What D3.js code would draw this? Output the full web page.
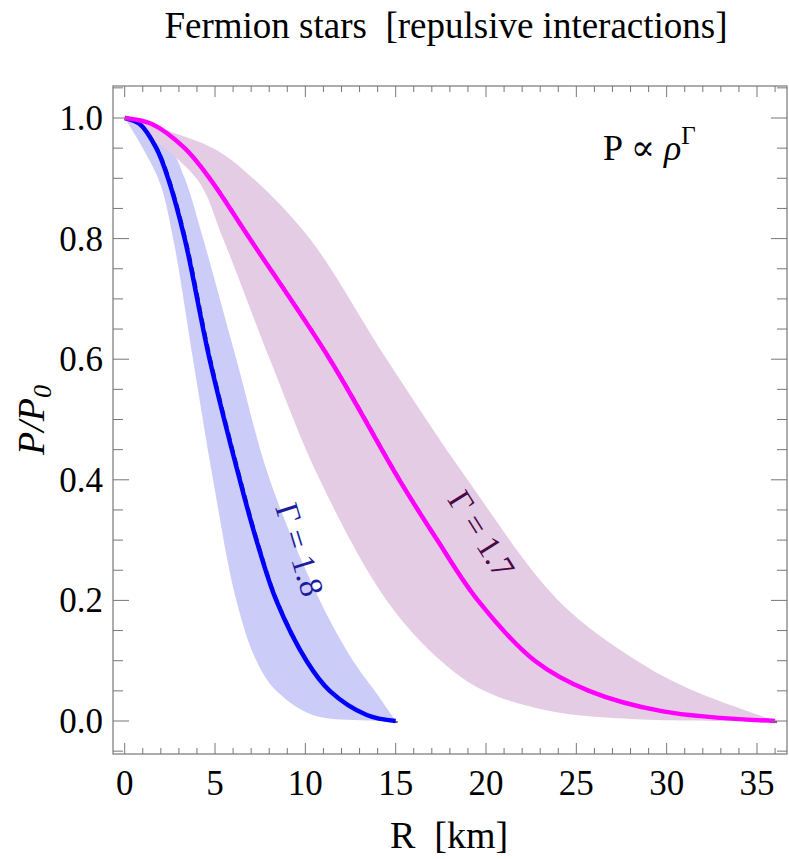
<!DOCTYPE html>
<html><head><meta charset="utf-8">
<script src="https://cdn.jsdelivr.net/npm/d3@7"></script>
<style>body{margin:0;background:#fff} text{white-space:pre}</style></head>
<body><svg id="c" width="789" height="859"></svg>
<script>
const xTicks=[0,5,10,15,20,25,30,35];
const yTicks=[0,0.2,0.4,0.6,0.8,1.0];
const blueX=[0,0.83,1.75,2.40,3.32,4.70,6.37,7.29,8.39,10.06,11.35,13.4,15];
const blueY=[1,0.99,0.95,0.9,0.8,0.6,0.4,0.3,0.2,0.1,0.05,0.01,0];
const blueLoX=[0,1.85,2.68,3.78,4.89,6.18,7.29,8.39,10.4,13.4,15];
const blueLoY=[1,0.9,0.8,0.6,0.4,0.2,0.1,0.05,0.01,0.001,0];
const blueHiX=[0,2.49,3.32,4.34,6.18,8.03,10.8,12.64,13.84,15];
const blueHiY=[1,0.95,0.9,0.8,0.6,0.4,0.2,0.1,0.05,0];
const magX=[0,1.5,3.32,4.70,6.92,11.35,15.2,17.3,19.55,22.7,25.7,29.8,36];
const magY=[1,0.99,0.95,0.9,0.8,0.6,0.4,0.3,0.2,0.1,0.05,0.016,0];
const magHiX=[0,4.89,7.1,10.24,14.5,18.98,24.0,28.35,31.5,34.5,36];
const magHiY=[1,0.95,0.9,0.8,0.6,0.4,0.2,0.1,0.05,0.016,0];
const magLoX=[0,3.97,5.44,8.03,10.8,14.5,17.5,19.9,23.6,28.3,36];
const magLoY=[1,0.9,0.8,0.6,0.4,0.2,0.1,0.05,0.016,0.003,0];

const svg=d3.select("#c");
const L=113,R=787,T=86,B=754;
const x=d3.scaleLinear().domain([0,35]).range([124.7,757]);
const y=d3.scaleLinear().domain([0,1]).range([721,118]);
const font="Liberation Serif, DejaVu Serif, serif";
const pts=(xs,ys)=>xs.map((v,i)=>[v,ys[i]]);
const lg=d3.line().curve(d3.curveCatmullRom);
function band(lo,hi,col){
  const p=pts(...lo).map(d=>[x(d[0]),y(d[1])]);
  const q=pts(...hi).map(d=>[x(d[0]),y(d[1])]).reverse();
  svg.append("path").attr("d",lg(p)+"L"+lg(q).slice(1)+"Z").attr("fill",col);
}
band([blueLoX,blueLoY],[blueHiX,blueHiY],"#ccccf8");
band([magLoX,magLoY],[magHiX,magHiY],"#e4cde4");
const lc=d3.line().x(d=>x(d[0])).y(d=>y(d[1])).curve(d3.curveCatmullRom);
[[blueX,blueY,"#0000ff"],[magX,magY,"#ff00ff"]].forEach(([xs,ys,c])=>{
  svg.append("path").attr("d",lc(pts(xs,ys))).attr("fill","none").attr("stroke","#333").attr("stroke-width",1.5).attr("stroke-dasharray","8,5").attr("transform","translate(2,1)");
  svg.append("path").attr("d",lc(pts(xs,ys))).attr("fill","none").attr("stroke",c).attr("stroke-width",4.5);
});
svg.append("rect").attr("x",L).attr("y",T).attr("width",R-L).attr("height",B-T).attr("fill","none").attr("stroke","#777").attr("stroke-width",1.2);
const g=svg.append("g").attr("stroke","#777").attr("stroke-width",1);
for(let v=0;v<=36;v++){const big=v%5===0,len=big?11:6;
  g.append("line").attr("x1",x(v)).attr("x2",x(v)).attr("y1",B).attr("y2",B-len);
  g.append("line").attr("x1",x(v)).attr("x2",x(v)).attr("y1",T).attr("y2",T+len);}
for(let k=-2;k<=22;k++){const v=k*0.05;const yy=y(v);if(yy<T||yy>B)continue;const big=k%4===0,len=big?16:10;
  g.append("line").attr("y1",yy).attr("y2",yy).attr("x1",L).attr("x2",L+len);
  g.append("line").attr("y1",yy).attr("y2",yy).attr("x1",R).attr("x2",R-len);}
xTicks.forEach(v=>svg.append("text").attr("x",x(v)).attr("y",795).attr("text-anchor","middle").attr("font-family",font).attr("font-size",35).text(v));
yTicks.forEach(v=>svg.append("text").attr("x",103).attr("y",y(v)+12).attr("text-anchor","end").attr("font-family",font).attr("font-size",35).text(v.toFixed(1)));
svg.append("text").attr("x",446).attr("y",38).attr("text-anchor","middle").attr("font-family",font).attr("font-size",37).text("Fermion stars  [repulsive interactions]");
svg.append("text").attr("x",449).attr("y",848).attr("text-anchor","middle").attr("font-family",font).attr("font-size",38).text("R  [km]");
svg.append("text").attr("transform","translate(44,420) rotate(-90)").attr("text-anchor","middle").attr("font-family",font).attr("font-size",38).attr("font-style","italic").html('P/P<tspan font-size="26" dy="7">0</tspan>');
svg.append("text").attr("x",603).attr("y",160).attr("font-family",font).attr("font-size",36).html('P ∝ <tspan font-style="italic">ρ</tspan><tspan font-size="25" dy="-16">Γ</tspan>');
svg.append("text").attr("transform","translate(289,553) rotate(73)").attr("text-anchor","middle").attr("font-family",font).attr("font-size",33).attr("fill","#1c1c9c").text("Γ = 1.8");
svg.append("text").attr("transform","translate(472,540) rotate(58)").attr("text-anchor","middle").attr("font-family",font).attr("font-size",33).attr("fill","#4a0845").text("Γ = 1.7");
</script></body></html>
